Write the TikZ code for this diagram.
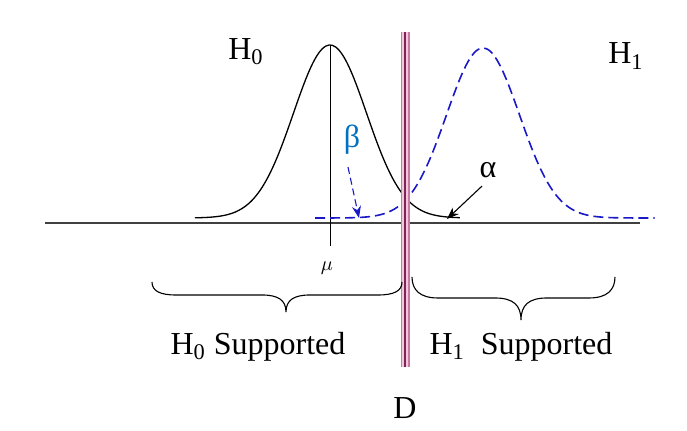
\documentclass[tikz,border=0pt]{standalone}
\usepackage{fontspec}
\setmainfont{Liberation Serif}
\usetikzlibrary{arrows.meta}
\definecolor{betablue}{RGB}{0,112,192}
\definecolor{hblue}{RGB}{25,25,200}
\definecolor{dpink}{RGB}{200,120,165}
\definecolor{lpink}{RGB}{240,200,222}
\definecolor{dplum}{RGB}{130,35,85}
\begin{document}
\begin{tikzpicture}[x=0.5pt, y=-0.5pt,
    lbl/.style={inner sep=0pt, font=\fontsize{16}{19}\selectfont},
    curve/.style={line width=0.65pt},
    brace/.style={line width=0.55pt},
    arrow/.style={-{Stealth[length=6pt,width=4.5pt]}, line width=0.55pt}
]
    \useasboundingbox (0,0) rectangle (687,431);

    % Axis and mean line
    \draw[line width=0.7pt, black!75] (45,223) -- (640,223);
    \draw[line width=0.5pt] (330,45) -- (330,246);

    % H0 curve (solid) and H1 curve (dashed)
    \draw[curve, smooth, samples=80, domain=-3.7:3.56]
        plot ({330+36.5*\x},{218-173*exp(-0.5*\x*\x)});
    \draw[curve, line width=0.8pt, hblue, dashed, dash pattern=on 5pt off 2.5pt, smooth, samples=100, domain=-4.6:4.7]
        plot ({483+36.5*\x},{218-170*exp(-0.5*\x*\x)});

    % Decision line D
    \draw[line width=4.5pt, dpink] (405,32) -- (405,367);
    \draw[line width=3.2pt, lpink] (405,32) -- (405,367);
    \draw[line width=1.3pt, dplum] (405,32) -- (405,367);

    % Labels
    \node[lbl] (h0) at (246,52) {H\textsubscript{0}};
    \node[lbl] (h1) at (626,56) {H\textsubscript{1}};
    \node[lbl, text=betablue] (beta) at (352,140) {β};
    \node[lbl] (alpha) at (488,170) {α};
    \node[inner sep=0pt, font=\fontsize{10}{12}\selectfont] (mu) at (327,268) {$\mu$};
    \node[lbl] (d) at (405,408) {D};

    % Error arrows
    \coordinate (betaend) at (359,218);
    \coordinate (alphaend) at (447,219);
    \draw[arrow, hblue, dashed, dash pattern=on 3.5pt off 2pt] (beta.south) ++(-4,12) -- (betaend);
    \draw[arrow] (alpha.south) ++(-6,8) -- (alphaend);

    % Braces
    \draw[brace] (152,282) .. controls (152,291) and (160,295) .. (176,295) -- (262,295)
        .. controls (278,295) and (286,300) .. (286,312)
        .. controls (286,300) and (294,295) .. (310,295)
        -- (378,295) .. controls (394,295) and (402,291) .. (402,282);
    \draw[brace] (412,277) .. controls (412,290) and (420,298) .. (438,298) -- (495,298)
        .. controls (513,298) and (521,305) .. (521,320)
        .. controls (521,305) and (529,298) .. (547,298)
        -- (589,298) .. controls (607,298) and (615,290) .. (615,277);

    % Region labels
    \node[lbl] (h0sup) at (258,347) {H\textsubscript{0}~Supported};
    \node[lbl] (h1sup) at (521,347) {H\textsubscript{1}~~Supported};
\end{tikzpicture}
\end{document}
